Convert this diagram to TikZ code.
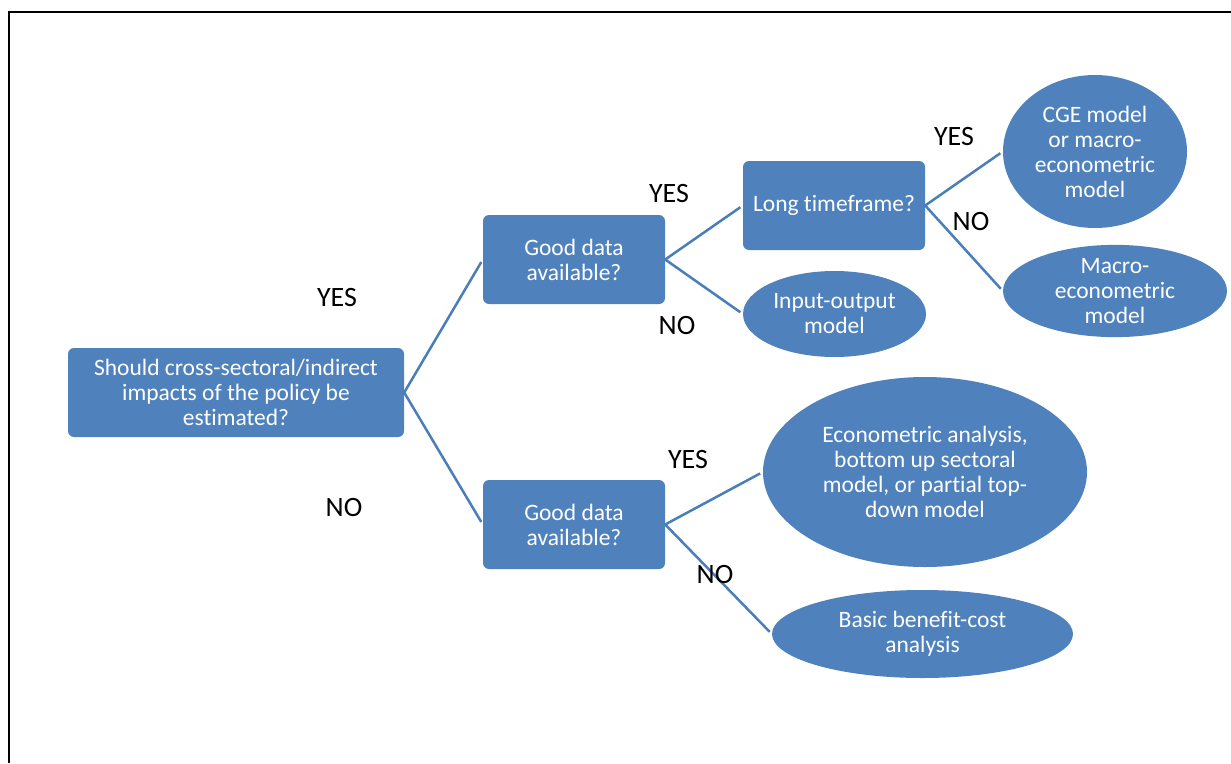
\documentclass[tikz,border=0pt]{standalone}
\usepackage{fontspec}
\setmainfont{Carlito}[Ligatures=NoCommon]
\usepackage{tikz}
\usetikzlibrary{shapes.geometric}

\definecolor{boxblue}{HTML}{4F81BD}
\definecolor{lineblue}{HTML}{4A7EBB}

\tikzset{
  askbox/.style={draw=none, fill=boxblue, rounded corners=6pt, text=white,
    align=center, inner sep=0pt, font=\fontsize{23.5}{25}\selectfont},
  endball/.style={ellipse, draw=none, fill=boxblue, text=white,
    align=center, inner sep=0pt, font=\fontsize{23.5}{25}\selectfont},
  branch/.style={draw=lineblue, line width=2.5pt, shorten >=3pt},
  answer/.style={font=\fontsize{28}{30}\selectfont, inner sep=0pt}
}

\begin{document}
\begin{tikzpicture}[x=1pt, y=-1pt]
			\useasboundingbox (0,0) rectangle (1231,763);
			\draw [line width=2pt] (9,763) -- (9,12) -- (1231,12);

			\node [askbox, minimum width=336pt, minimum height=89pt] (root) at (236,392.5)
				{Should cross-sectoral/indirect\\impacts of the policy be\\estimated?};
			\node [askbox, minimum width=182pt, minimum height=89pt] (gdup) at (574,259.5)
				{Good data\\available?};
			\node [askbox, minimum width=182pt, minimum height=89pt] (gddown) at (574,524.5)
				{Good data\\available?};
			\node [askbox, minimum width=182pt, minimum height=89pt] (long) at (834,205.5)
				{Long timeframe?};

			\node [endball, minimum width=183pt, minimum height=86pt] (io) at (834.5,314)
				{Input-output\\model};
			\node [endball, minimum width=184pt, minimum height=153pt] (cge) at (1095,151.5)
				{CGE model\\or macro-\\econometric\\model};
			\node [endball, minimum width=224pt, minimum height=88pt] (macro) at (1115,291)
				{Macro-\\econometric\\model};
			\node [endball, minimum width=324pt, minimum height=190pt] (econ) at (925,472)
				{Econometric analysis,\\bottom up sectoral\\model, or partial top-\\down model};
			\node [endball, minimum width=301pt, minimum height=88pt] (bca) at (922.5,634)
				{Basic benefit-cost\\analysis};

			\draw [branch] (root.east) -- (gdup.west);
			\draw [branch] (root.east) -- (gddown.west);
			\draw [branch] (gdup.east) -- (long.west);
			\draw [branch] (gdup.east) -- (io.west);
			\draw [branch] (long.east) -- (cge.west);
			\draw [branch] (long.east) -- (macro.west);
			\draw [branch] (gddown.east) -- (econ.west);
			\draw [branch] (gddown.east) -- (bca.west);

			\node [answer] (yesroot) at (337,298) {YES};
			\node [answer] (noroot) at (344,508) {NO};
			\node [answer] (yesup) at (669,194) {YES};
			\node [answer] (noup) at (677,326) {NO};
			\node [answer] (yeslong) at (954,137) {YES};
			\node [answer] (nolong) at (971,222) {NO};
			\node [answer] (yesdown) at (688,460) {YES};
			\node [answer] (nodown) at (715,575) {NO};

		\end{tikzpicture}
\end{document}
